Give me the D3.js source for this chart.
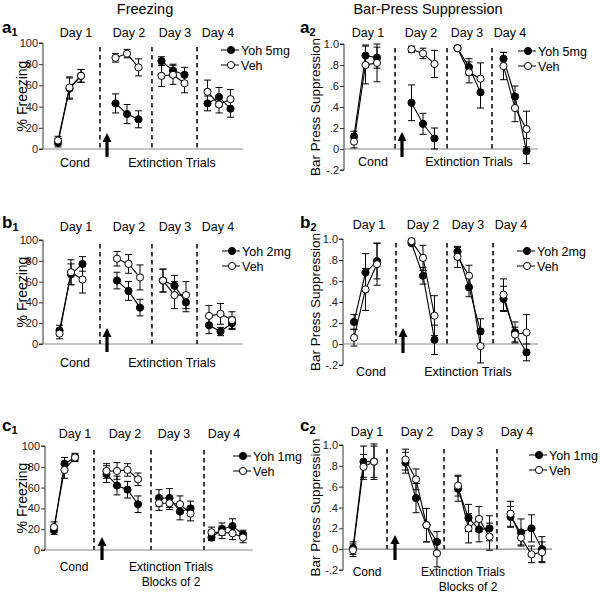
<!DOCTYPE html>
<html><head><meta charset="utf-8">
<script src="https://cdn.jsdelivr.net/npm/d3@7"></script>
<style>body{margin:0;background:#fff}svg{display:block;font-family:"Liberation Sans",Arial,sans-serif}</style>
</head><body><svg id="c" width="600" height="594"></svg>
<script>
// ---- data ----
const days = ["Day 1", "Day 2", "Day 3", "Day 4"];
const freezeTicks = [0, 20, 40, 60, 80, 100];
const bpTicks = [-0.2, 0, 0.2, 0.4, 0.6, 0.8, 1.0];
const bpTickLabels = ["-.2", "0", ".2", ".4", ".6", ".8", "1.0"];
const groupStart3 = [0, 5, 9, 13];
const groupStart4 = [0, 5, 10, 15];

const a1Yoh = [[6, 57, 69], [43, 33, 28], [83, 74, 70], [43, 49, 38]];
const a1YohErr = [[4, 10, 6], [9, 9, 8], [4, 6, 7], [7, 9, 8]];
const a1Veh = [[8, 58, 69], [86, 90, 77], [69, 70, 62], [54, 42, 47]];
const a1VehErr = [[4, 10, 6], [4, 4, 8], [10, 9, 9], [11, 8, 9]];

const a2Yoh = [[0.12, 0.89, 0.87], [0.44, 0.24, 0.10], [0.96, 0.78, 0.54], [0.86, 0.50, -0.02]];
const a2YohErr = [[0.05, 0.10, 0.10], [0.17, 0.10, 0.10], [0.02, 0.08, 0.15], [0.06, 0.10, 0.12]];
const a2Veh = [[0.07, 0.80, 0.82], [0.95, 0.91, 0.81], [0.96, 0.73, 0.67], [0.79, 0.39, 0.19]];
const a2VehErr = [[0.06, 0.18, 0.18], [0.03, 0.05, 0.13], [0.02, 0.10, 0.15], [0.13, 0.13, 0.17]];

const b1Yoh = [[13, 67, 77], [61, 51, 35], [61, 56, 40], [18, 12, 20]];
const b1YohErr = [[5, 10, 7], [8, 9, 8], [11, 10, 9], [8, 4, 6]];
const b1Veh = [[10, 69, 62], [82, 77, 64], [61, 47, 47], [27, 29, 23]];
const b1VehErr = [[5, 12, 13], [7, 9, 12], [11, 13, 13], [10, 10, 8]];

const b2Yoh = [[0.21, 0.68, 0.79], [0.96, 0.65, 0.04], [0.88, 0.54, 0.12], [0.43, 0.11, -0.08]];
const b2YohErr = [[0.07, 0.18, 0.17], [0.02, 0.08, 0.14], [0.04, 0.09, 0.12], [0.12, 0.10, 0.08]];
const b2Veh = [[0.06, 0.52, 0.76], [0.98, 0.82, 0.27], [0.83, 0.65, -0.02], [0.47, 0.09, 0.11]];
const b2VehErr = [[0.08, 0.20, 0.20], [0.02, 0.12, 0.19], [0.10, 0.10, 0.16], [0.15, 0.07, 0.17]];

const c1Yoh = [[19, 83, 89], [73, 62, 58, 44], [50, 50, 37, 40], [12, 20, 23, 15]];
const c1YohErr = [[4, 6, 3], [8, 9, 8, 8], [8, 9, 8, 7], [3, 6, 7, 4]];
const c1Veh = [[22, 77, 89], [76, 76, 77, 68], [45, 45, 44, 35], [17, 17, 16, 12]];
const c1VehErr = [[5, 8, 4], [7, 8, 6, 6], [7, 6, 8, 7], [5, 6, 6, 5]];

const c2Yoh = [[0.01, 0.84, 0.84], [0.83, 0.49, 0.23, 0.07], [0.58, 0.30, 0.19, 0.20], [0.31, 0.16, 0.20, 0.00]];
const c2YohErr = [[0.06, 0.15, 0.15], [0.10, 0.14, 0.16, 0.10], [0.12, 0.13, 0.12, 0.12], [0.10, 0.13, 0.13, 0.12]];
const c2Veh = [[-0.01, 0.79, 0.84], [0.86, 0.67, 0.23, -0.04], [0.61, 0.20, 0.29, 0.12], [0.34, 0.11, -0.05, -0.03]];
const c2VehErr = [[0.06, 0.12, 0.17], [0.10, 0.10, 0.16, 0.13], [0.10, 0.14, 0.12, 0.13], [0.12, 0.07, 0.08, 0.10]];

// ---- layout ----
const svg = d3.select("#c");
svg.append("text").attr("x", 145).attr("y", 14).attr("text-anchor", "middle").attr("font-size", 14.5).text("Freezing");
svg.append("text").attr("x", 428).attr("y", 14).attr("text-anchor", "middle").attr("font-size", 14.5).text("Bar-Press Suppression");

const panels = [
  {letter: "a", sub: "1", lx: 2, ly: 33, type: "f", yoh: a1Yoh, yohE: a1YohErr, veh: a1Veh, vehE: a1VehErr, dose: "Yoh 5mg",
   gs: groupStart3, x0: 58, step: 11.5, axL: 43, axR: 243, yB: 149, yT: 43, div: [3.65, 8.17, 12.09],
   dayX: [76, 129, 175, 218], dayY: 37, condX: 75, condY: 167, extX: 172, arrowX: 107, arrowT: 133, arrowB: 157,
   legX: 221, legY: 50, yLabX: 22},
  {letter: "a", sub: "2", lx: 300, ly: 33, type: "b", yoh: a2Yoh, yohE: a2YohErr, veh: a2Veh, vehE: a2VehErr, dose: "Yoh 5mg",
   gs: groupStart3, x0: 354, step: 11.5, axL: 344, axR: 538, yB: 170, yT: 44, div: [3.57, 8.09, 12.0],
   dayX: [368, 421, 467, 510], dayY: 37, condX: 373, condY: 166, extX: 469, arrowX: 402, arrowT: 132, arrowB: 157,
   legX: 518, legY: 51, yLabX: 315},
  {letter: "b", sub: "1", lx: 2, ly: 228, type: "f", yoh: b1Yoh, yohE: b1YohErr, veh: b1Veh, vehE: b1VehErr, dose: "Yoh 2mg",
   gs: groupStart3, x0: 59.5, step: 11.5, axL: 43, axR: 243, yB: 344, yT: 240, div: [3.52, 8.04, 11.96],
   dayX: [76, 129, 175, 218], dayY: 231, condX: 75, condY: 367, extX: 172, arrowX: 107, arrowT: 328, arrowB: 352,
   legX: 222, legY: 251, yLabX: 22},
  {letter: "b", sub: "2", lx: 300, ly: 228, type: "b", yoh: b2Yoh, yohE: b2YohErr, veh: b2Veh, vehE: b2VehErr, dose: "Yoh 2mg",
   gs: groupStart3, x0: 354, step: 11.5, axL: 343, axR: 538, yB: 365, yT: 239, div: [3.65, 8.09, 12.09],
   dayX: [369, 423, 468, 511], dayY: 229, condX: 371, condY: 376, extX: 468, arrowX: 403, arrowT: 328, arrowB: 353,
   legX: 517, legY: 251, yLabX: 315},
  {letter: "c", sub: "1", lx: 2, ly: 431, type: "f", yoh: c1Yoh, yohE: c1YohErr, veh: c1Veh, vehE: c1VehErr, dose: "Yoh 1mg",
   gs: groupStart4, x0: 54, step: 10.5, axL: 45, axR: 253, yB: 550, yT: 446, div: [3.81, 9.24, 14.29],
   dayX: [75, 125, 174, 224], dayY: 438, condX: 74, condY: 571, extX: 171, arrowX: 102, arrowT: 537, arrowB: 560,
   legX: 233, legY: 456, yLabX: 22, blocks: 586},
  {letter: "c", sub: "2", lx: 300, ly: 431, type: "b", yoh: c2Yoh, yohE: c2YohErr, veh: c2Veh, vehE: c2VehErr, dose: "Yoh 1mg",
   gs: groupStart4, x0: 353, step: 10.5, axL: 343, axR: 552, yB: 570, yT: 445, div: [3.24, 8.67, 13.71],
   dayX: [367, 417, 467, 517], dayY: 436, condX: 367, condY: 576, extX: 463, arrowX: 395, arrowT: 535, arrowB: 560,
   legX: 529, legY: 455, yLabX: 315, blocks: 591}
];

const R = 3.6;

panels.forEach(p => {
  const g = svg.append("g");
  const x = d3.scaleLinear().domain([0, 16]).range([p.x0, p.x0 + 16 * p.step]);
  const isF = p.type === "f";
  const y = d3.scaleLinear().domain(isF ? [0, 100] : [-0.2, 1.0]).range([p.yB, p.yT]);
  const fs = p.blocks ? 12 : 12.5;

  // panel label
  const lab = g.append("text").attr("x", p.lx).attr("y", p.ly).attr("font-weight", "bold").attr("font-size", 17);
  lab.append("tspan").text(p.letter);
  lab.append("tspan").attr("font-size", 11).attr("dy", 3).text(p.sub);

  // y axis
  const ticks = isF ? freezeTicks : bpTicks;
  const yAxis = d3.axisLeft(y).tickValues(ticks).tickSize(4).tickPadding(1)
    .tickFormat((d, i) => isF ? d : bpTickLabels[i]);
  const ya = g.append("g").attr("transform", `translate(${p.axL},0)`).call(yAxis);
  ya.select(".domain").attr("stroke", "#333").attr("d", `M-4,${y(ticks[0])}H0V${y(ticks[ticks.length - 1])}H-4`);
  ya.selectAll(".tick line").attr("stroke", "#333");
  ya.selectAll(".tick text").attr("font-size", 11).attr("fill", "#222").attr("font-family", "Liberation Sans, Arial, sans-serif");

  // x baseline at zero
  g.append("line").attr("x1", p.axL).attr("x2", p.axR).attr("y1", y(0)).attr("y2", y(0))
    .attr("stroke", "#888").attr("stroke-width", 1.2);

  // y label
  g.append("text").attr("transform", `translate(${p.yLabX},${(p.yT + p.yB) / 2}) rotate(-90)`)
    .attr("text-anchor", "middle").attr("font-size", isF ? 14 : 13.5).attr("dy", "0.35em")
    .text(isF ? "% Freezing" : "Bar Press Suppression");

  // dividers
  p.div.forEach(d => {
    g.append("line").attr("x1", x(d)).attr("x2", x(d)).attr("y1", p.yT + 4).attr("y2", y(0))
      .attr("stroke", "#111").attr("stroke-width", 1.6).attr("stroke-dasharray", "4.5,3.5");
  });

  // day labels
  days.forEach((d, i) => {
    g.append("text").attr("x", p.dayX[i]).attr("y", p.dayY).attr("text-anchor", "middle").attr("font-size", 12.5).text(d);
  });
  g.append("text").attr("x", p.condX).attr("y", p.condY).attr("text-anchor", "middle").attr("font-size", fs).text("Cond");
  g.append("text").attr("x", p.extX).attr("y", p.condY).attr("text-anchor", "middle").attr("font-size", fs).text("Extinction Trials");
  if (p.blocks) g.append("text").attr("x", p.extX + (isF ? 0 : 5)).attr("y", p.blocks).attr("text-anchor", "middle").attr("font-size", fs).text("Blocks of 2");

  // arrow
  g.append("line").attr("x1", p.arrowX).attr("x2", p.arrowX).attr("y1", p.arrowT + 7).attr("y2", p.arrowB)
    .attr("stroke", "#000").attr("stroke-width", 3.2);
  g.append("path").attr("d", `M${p.arrowX - 4.5},${p.arrowT + 9}L${p.arrowX},${p.arrowT}L${p.arrowX + 4.5},${p.arrowT + 9}Z`).attr("fill", "#000");

  // series
  const drawSeries = (vals, errs, filled) => {
    const line = d3.line().x(d => x(d.i)).y(d => y(d.v));
    vals.forEach((grp, gi) => {
      const pts = grp.map((v, k) => ({i: p.gs[gi] + k, v: v, e: errs[gi][k]}));
      pts.forEach(d => {
        const cx = x(d.i);
        g.append("line").attr("x1", cx).attr("x2", cx).attr("y1", y(d.v - d.e)).attr("y2", y(d.v + d.e)).attr("stroke", "#000").attr("stroke-width", 1);
        [d.v - d.e, d.v + d.e].forEach(e => g.append("line").attr("x1", cx - 3.5).attr("x2", cx + 3.5).attr("y1", y(e)).attr("y2", y(e)).attr("stroke", "#000").attr("stroke-width", 1));
      });
      g.append("path").attr("d", line(pts)).attr("fill", "none").attr("stroke", "#000").attr("stroke-width", 1.1);
      pts.forEach(d => {
        g.append("circle").attr("cx", x(d.i)).attr("cy", y(d.v)).attr("r", R)
          .attr("fill", filled ? "#000" : "#fff").attr("stroke", "#000").attr("stroke-width", 1);
      });
    });
  };
  drawSeries(p.yoh, p.yohE, true);
  drawSeries(p.veh, p.vehE, false);

  // legend
  [[p.dose, true], ["Veh", false]].forEach(([t, f], k) => {
    const ly = p.legY + k * 15;
    g.append("line").attr("x1", p.legX).attr("x2", p.legX + 18).attr("y1", ly).attr("y2", ly).attr("stroke", "#000");
    g.append("circle").attr("cx", p.legX + 10).attr("cy", ly).attr("r", R).attr("fill", f ? "#000" : "#fff").attr("stroke", "#000");
    g.append("text").attr("x", p.legX + 20).attr("y", ly).attr("dy", "0.36em").attr("font-size", 12.5).text(t);
  });
});
</script></body></html>
